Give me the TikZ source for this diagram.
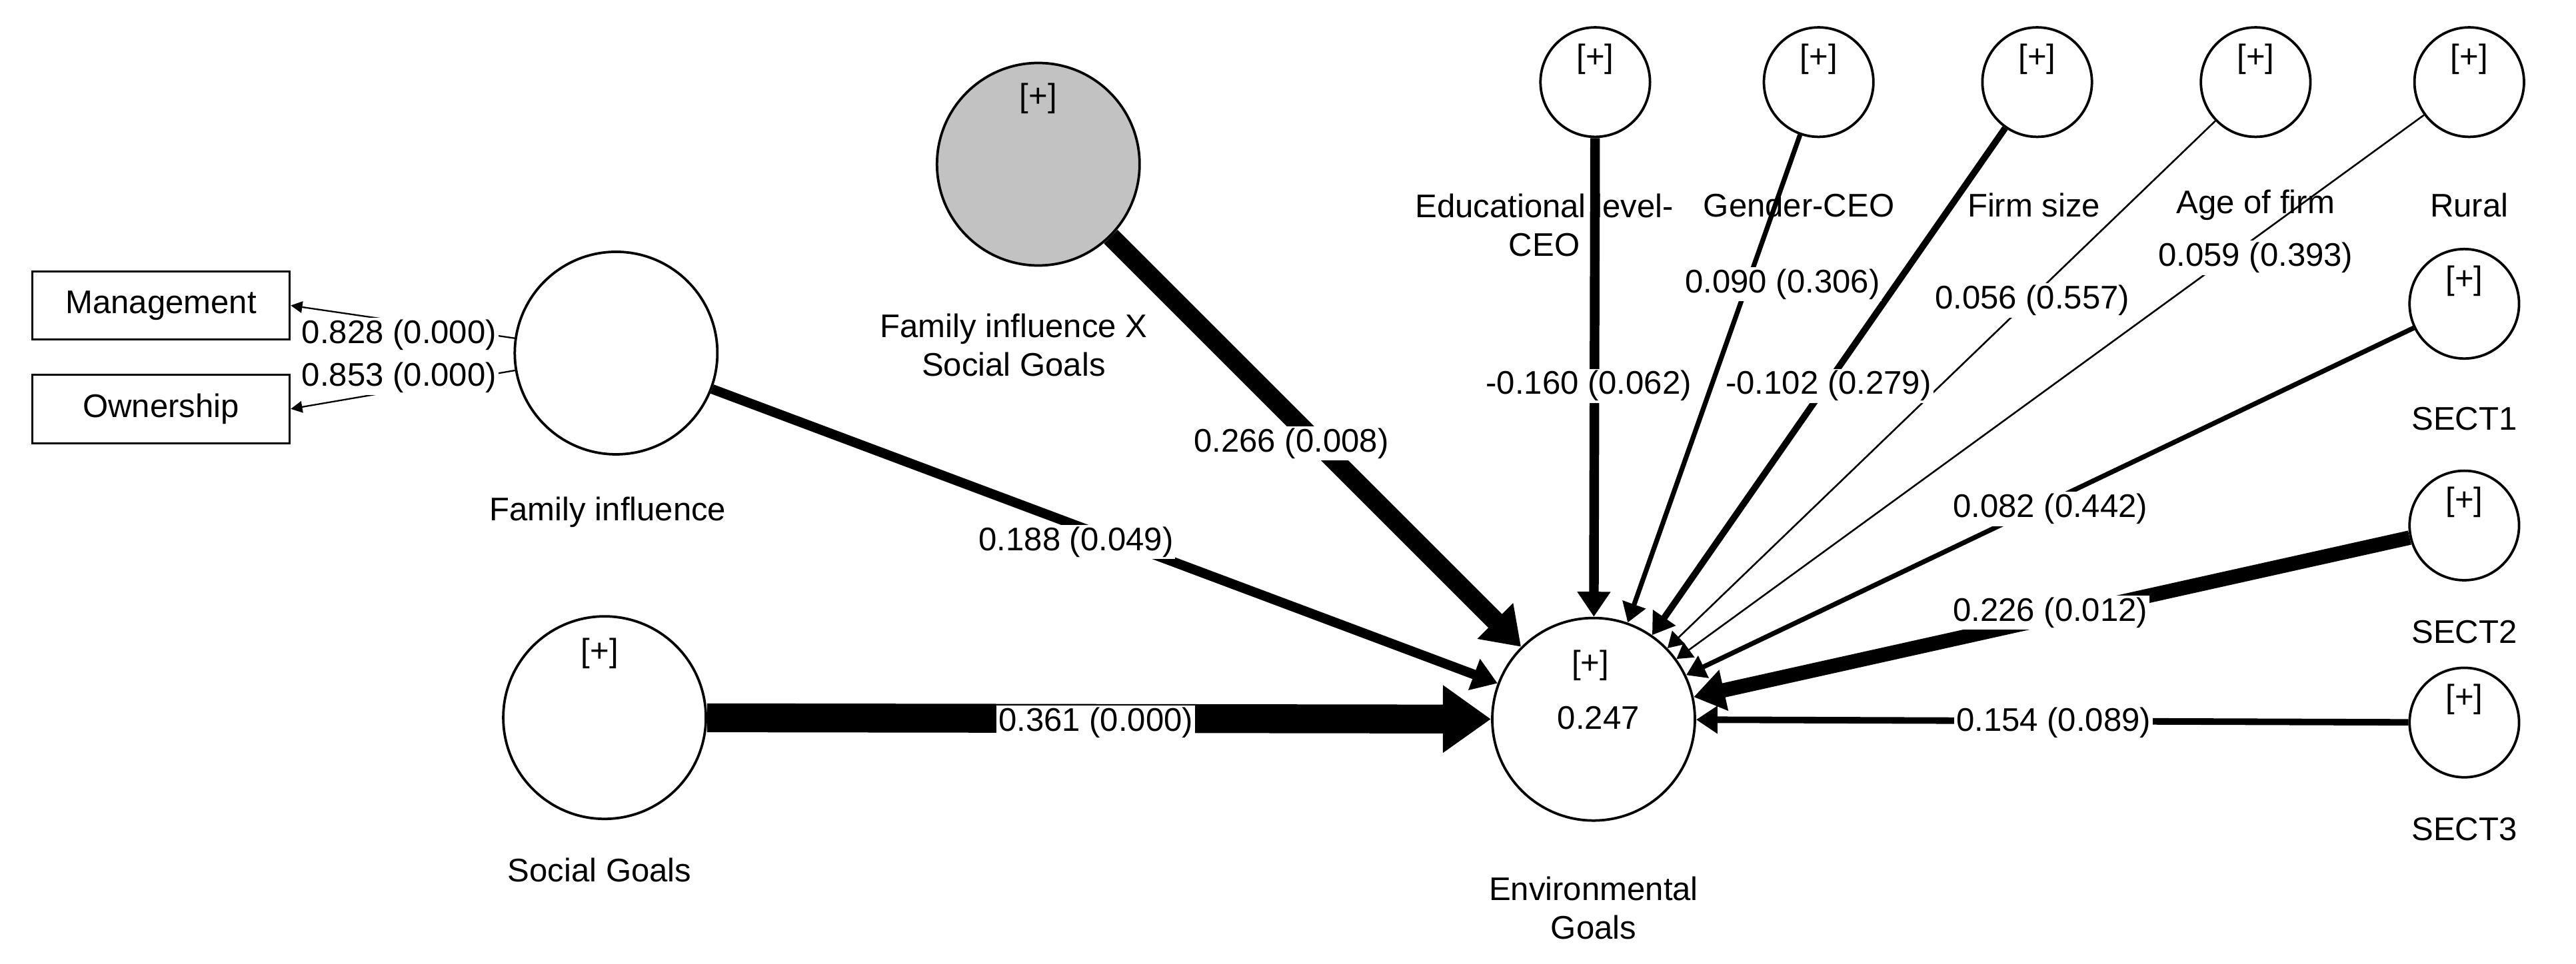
\documentclass[tikz,border=0pt]{standalone}
\usepackage{fontspec}
\setmainfont{Liberation Sans}
\usetikzlibrary{arrows.meta}
\begin{document}
\begin{tikzpicture}[x=0.03cm,y=-0.03cm,font=\fontsize{17}{20}\selectfont,
  lv/.style={circle,draw,line width=1.3pt,inner sep=0pt},
  big/.style={lv,minimum size=3.7cm},
  small/.style={lv,minimum size=2cm},
  mv/.style={draw,line width=1.1pt,minimum width=4.7cm,minimum height=1.25cm},
  lab/.style={align=center},
  el/.style={fill=white,inner sep=1pt},
  pa/.style={-{Triangle[length=7pt 1.2,width=8pt 1.7]}}]
\useasboundingbox (0,0) rectangle (1568,587);
% nodes
\node[mv] (man) at (98,186) {Management};
\node[mv] (own) at (98,249) {Ownership};
\node[big] (fi) at (375,215) {};
\node[big] (sg) at (368,437) {};
\node[big,fill=black!24] (fx) at (632,100) {};
\node[big] (eg) at (970,438) {};
\foreach \n/\x/\y in {edu/971/50,gen/1107/50,fs/1240/50,age/1373/50,rur/1503/50,s1/1500/185,s2/1500/320,s3/1500/440}
  {\node[small] (\n) at (\x,\y) {}; \node at (\x,\y-14) {[+]};}
\node at (365,398) {[+]};
\node at (632,60) {[+]};
\node at (968,405) {[+]};
\node at (973,437) {0.247};
% labels
\node[lab] at (370,312) {Family influence};
\node[lab] at (365,530) {Social Goals};
\node[lab] at (617,210) {Family influence X\\Social Goals};
\node[lab] at (970,553) {Environmental\\Goals};
\node[lab] at (940,137) {Educational level-\\CEO};
\node at (1095,125) {Gender-CEO};
\node at (1238,125) {Firm size};
\node at (1373,125) {Age of firm};
\node at (1503,125) {Rural};
\node at (1500,255) {SECT1};
\node at (1500,385) {SECT2};
\node at (1500,505) {SECT3};
% loadings
\draw[line width=0.8pt,-{Triangle[length=6pt,width=6pt]}] (fi) -- (man.east);
\draw[line width=0.8pt,-{Triangle[length=6pt,width=6pt]}] (fi) -- (own.east);
\node[el] at (243,204) {0.828 (0.000)};
\node[el] at (243,230) {0.853 (0.000)};
% paths
\draw[pa,line width=15pt] (sg) -- (eg);
\draw[pa,line width=10pt] (fx) -- (eg);
\draw[pa,line width=5pt] (fi) -- (eg);
\draw[pa,line width=5pt] (edu) -- (eg);
\draw[pa,line width=2.5pt] (gen) -- (eg);
\draw[pa,line width=3.4pt] (fs) -- (eg);
\draw[pa,line width=0.9pt] (age) -- (eg);
\draw[pa,line width=0.9pt] (rur) -- (eg);
\draw[pa,line width=2.5pt] (s1) -- (eg);
\draw[pa,line width=7.5pt] (s2) -- (eg);
\draw[pa,line width=3.4pt] (s3) -- (eg);
\node[el] at (786,270) {0.266 (0.008)};
\node[el] at (655,330) {0.188 (0.049)};
\node[el] at (667,440) {0.361 (0.000)};
\node[el] at (967,235) {-0.160 (0.062)};
\node[el] at (1085,173) {0.090 (0.306)};
\node[el] at (1113,235) {-0.102 (0.279)};
\node[el] at (1237,183) {0.056 (0.557)};
\node[el] at (1373,157) {0.059 (0.393)};
\node[el] at (1248,310) {0.082 (0.442)};
\node[el] at (1248,373) {0.226 (0.012)};
\node[el] at (1250,440) {0.154 (0.089)};
\end{tikzpicture}
\end{document}
